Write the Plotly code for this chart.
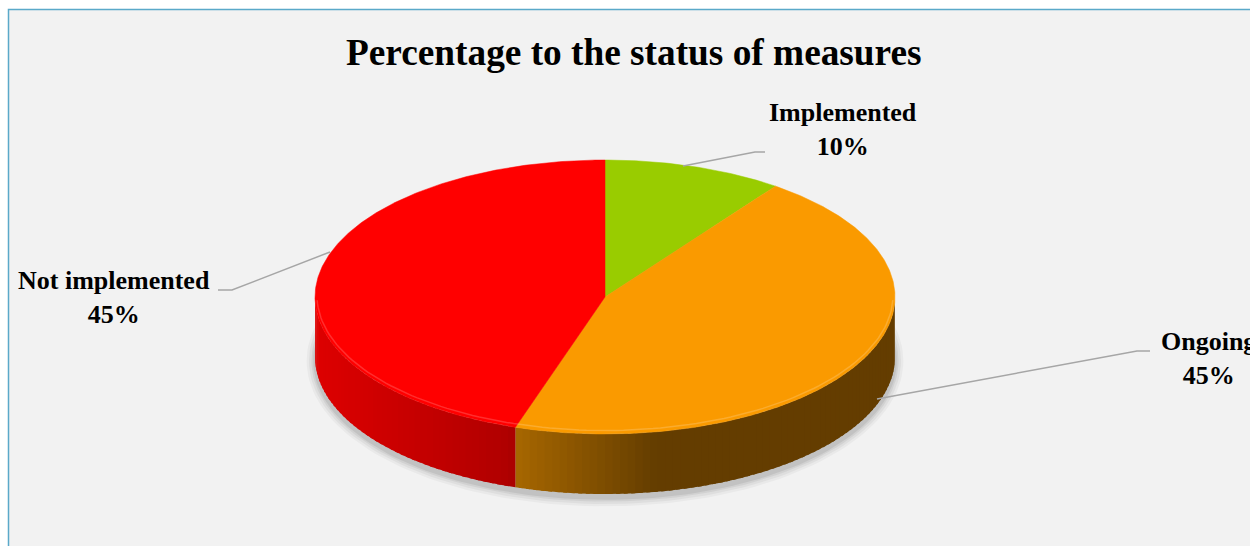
import numpy as np
import plotly.graph_objects as go

# ---- data ----
labels = ["Implemented", "Ongoing", "Not implemented"]
values = [10, 45, 45]
colors = ["#99cc00", "#fa9a00", "#ff0000"]
title_text = "Percentage to the status of measures"

# ---- layout constants (pixels) ----
W, H = 1250, 546
CX, CY, RX, RY, DEPTH = 605, 297, 290, 137, 60
FONT = "Liberation Serif, Times New Roman, serif"

# label placement (label centre) and leader line path (anchor -> elbow -> end)
label_layout = {
    "Implemented": dict(x=843, y=129, path=[(683, 166), (755, 152), (765, 152)]),
    "Ongoing": dict(x=1208, y=358, path=[(877, 399), (1137, 351), (1150, 351)]),
    "Not implemented": dict(x=114, y=297, path=[(330, 252), (232, 290), (218, 290)]),
}


def hex_rgb(h):
    h = h.lstrip("#")
    return np.array([int(h[i:i + 2], 16) for i in (0, 2, 4)], dtype=float)


def shade(x):
    # lighting factor of the pie's side wall as a function of horizontal position
    return float(np.interp(x, [316, 500, 657, 900], [0.87, 0.70, 0.40, 0.40]))


def ell(theta_deg, dy=0.0, sx=0.0, sy=0.0):
    t = np.radians(theta_deg)
    return CX + (RX + sx) * np.sin(t), CY - (RY + sy) * np.cos(t) + dy


fig = go.Figure()

total = float(sum(values))
bounds = np.concatenate([[0.0], np.cumsum(values)]) / total * 360.0

# ---- soft shadow under the pie ----
th = np.linspace(0, 360, 181)
for k, a in zip([14, 10, 6, 3], [0.035, 0.045, 0.055, 0.07]):
    xs, ys = ell(th, dy=DEPTH + 4, sx=k * 0.6, sy=k * 0.6)
    fig.add_trace(go.Scatter(x=xs, y=ys, mode="lines", fill="toself",
                             fillcolor=f"rgba(0,0,0,{a})", line=dict(width=0),
                             hoverinfo="skip", showlegend=False))

# ---- side walls (front half only: 90..270 degrees clockwise from top) ----
for lab, a0, a1, col in zip(labels, bounds[:-1], bounds[1:], colors):
    s0, s1 = max(a0, 90.0), min(a1, 270.0)
    if s1 <= s0:
        continue
    n = max(2, int((s1 - s0) / 1.5))
    edges = np.linspace(s0, s1, n + 1)
    base = hex_rgb(col)
    for i, (e0, e1) in enumerate(zip(edges[:-1], edges[1:])):
        e1x = min(e1 + 0.8, s1) if i < n - 1 else e1
        tt = np.linspace(e0, e1x, 5)
        xt, yt = ell(tt)
        xb, yb = ell(tt[::-1], dy=DEPTH)
        xm = float(np.mean(ell(np.array([e0, e1]))[0]))
        c = np.clip(base * shade(xm), 0, 255).astype(int)
        cs = f"rgb({c[0]},{c[1]},{c[2]})"
        fig.add_trace(go.Scatter(x=np.concatenate([xt, xb, xt[:1]]),
                                 y=np.concatenate([yt, yb, yt[:1]]),
                                 mode="lines", fill="toself", fillcolor=cs,
                                 line=dict(width=0),
                                 hoverinfo="skip", showlegend=False))

# ---- top faces ----
for lab, v, a0, a1, col in zip(labels, values, bounds[:-1], bounds[1:], colors):
    tt = np.linspace(a0, a1, max(3, int((a1 - a0) * 2)))
    xs, ys = ell(tt)
    fig.add_trace(go.Scatter(x=np.concatenate([[CX], xs, [CX]]),
                             y=np.concatenate([[CY], ys, [CY]]),
                             mode="lines", fill="toself", fillcolor=col,
                             line=dict(width=0.5, color=col),
                             name=lab, hoverinfo="name", showlegend=False))

# subtle rim highlight along the front edge of the top face
tt = np.linspace(92, 268, 120)
xs, ys = ell(tt, dy=-1.5, sx=-2, sy=-2)
fig.add_trace(go.Scatter(x=xs, y=ys, mode="lines",
                         line=dict(width=1.5, color="rgba(255,255,255,0.18)"),
                         hoverinfo="skip", showlegend=False))

# ---- leader lines and labels ----
for lab, v in zip(labels, values):
    L = label_layout[lab]
    px, py = zip(*L["path"])
    fig.add_trace(go.Scatter(x=list(px), y=list(py), mode="lines",
                             line=dict(color="#a6a6a6", width=1.5),
                             hoverinfo="skip", showlegend=False))
    pct = f"{round(v / total * 100)}%"
    fig.add_annotation(x=L["x"], y=L["y"], xref="x", yref="y",
                       text=f"<b>{lab}</b><br><b>{pct}</b>", showarrow=False,
                       font=dict(family=FONT, size=26, color="#000000"),
                       align="center", xanchor="center", yanchor="middle")

# title
fig.add_annotation(x=634, y=52, xref="x", yref="y", text=f"<b>{title_text}</b>",
                   showarrow=False, font=dict(family=FONT, size=37.3, color="#000000"),
                   xanchor="center", yanchor="middle")

# chart area background with border
fig.add_shape(type="rect", x0=8.5, y0=9.5, x1=W + 10, y1=H + 10, xref="x", yref="y",
              fillcolor="#f2f2f2", line=dict(color="#5aa9c9", width=1.5), layer="below")

fig.update_layout(
    width=W, height=H, margin=dict(l=0, r=0, t=0, b=0),
    paper_bgcolor="#ffffff", plot_bgcolor="#ffffff",
    xaxis=dict(range=[0, W], visible=False, fixedrange=True),
    yaxis=dict(range=[H, 0], visible=False, fixedrange=True),
    showlegend=False,
)

fig.write_html("out.html")
